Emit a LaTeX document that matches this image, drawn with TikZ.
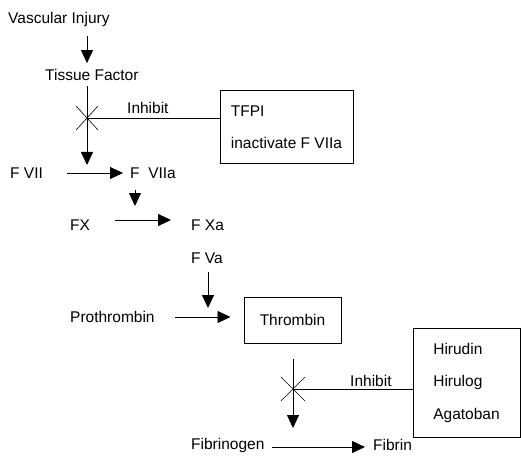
\documentclass[tikz,border=0pt]{standalone}
\usepackage{fontspec}
\setmainfont{Liberation Sans}
\usetikzlibrary{arrows.meta}

\begin{document}
\begin{tikzpicture}[x=1pt, y=-1pt,
    lbl/.style={inner sep=0pt, anchor=west, font=\fontsize{15.5}{18}\selectfont},
    box/.style={draw, line width=1pt, font=\fontsize{15.5}{32.5}\selectfont},
    arr/.style={-{Triangle[length=13pt,width=12pt]}, line width=0.8pt},
    cross/.style={line width=0.6pt}]
                    \useasboundingbox (0,0) rectangle (521,457);
                    % Nodes
                    \node[lbl] (vi) at (8,19) {Vascular Injury};
                    \node[lbl] (tf) at (45,75) {Tissue Factor};
                    \node[lbl] (inh1) at (127,108) {Inhibit};
                    \node[box, align=left, minimum width=133pt, minimum height=72pt] (tfpi) at (286.5,127) {TFPI\\inactivate F VIIa};
                    \node[lbl] (fvii) at (10,173) {F VII};
                    \node[lbl] (fviia) at (130,173) {F\ \ VIIa};
                    \node[lbl] (fx) at (70,225) {FX};
                    \node[lbl] (fxa) at (191,225) {F Xa};
                    \node[lbl] (fva) at (191,258) {F Va};
                    \node[lbl] (pro) at (70,317) {Prothrombin};
                    \node[box, minimum width=97pt, minimum height=46pt] (thr) at (292.5,320) {Thrombin};
                    \node[lbl] (inh2) at (350,381) {Inhibit};
                    \node[box, align=left, minimum width=107pt, minimum height=109pt] (hir) at (466.5,382.5) {Hirudin\\Hirulog\\Agatoban};
                    \node[lbl] (fbg) at (191,445) {Fibrinogen};
                    \node[lbl] (fib) at (373,445) {Fibrin};
                    % Points
                    \coordinate (x1) at (87,118);
                    \coordinate (e1) at (87,165);
                    \coordinate (e3) at (135,206);
                    \coordinate (e4) at (208,308);
                    \coordinate (x2) at (293,389);
                    \coordinate (e2) at (293,428);
                    % Edges
                    \draw[arr, shorten <=10pt, shorten >=6pt] (vi.south -| x1) -- (tf.north -| x1);
                    \draw[arr, shorten <=5pt] (tf.south -| x1) -- (e1);
                    \draw[cross] ([shift={(-11,-12)}]x1) -- ([shift={(11,12)}]x1);
                    \draw[cross] ([shift={(-11,12)}]x1) -- ([shift={(11,-12)}]x1);
                    \draw[line width=0.8pt] (x1) -- (tfpi.west |- x1);
                    \draw[arr, shorten <=24pt, shorten >=7pt] (fvii.east) -- (fviia.west);
                    \draw[arr, shorten <=11pt] ([xshift=5pt]fviia.south west) -- (e3);
                    \draw[arr, shorten <=25pt, shorten >=20pt] ([yshift=5pt]fx.east) -- ([yshift=5pt]fxa.west);
                    \draw[arr, shorten <=8pt] (fva.south -| e4) -- (e4);
                    \draw[arr, shorten <=20pt, shorten >=13pt] (pro.east) -- (thr.west |- pro.east);
                    \draw[arr, shorten <=15pt] (thr.south -| x2) -- (e2);
                    \draw[cross] ([shift={(-12,-12)}]x2) -- ([shift={(12,12)}]x2);
                    \draw[cross] ([shift={(-12,12)}]x2) -- ([shift={(12,-12)}]x2);
                    \draw[line width=0.8pt] (x2) -- (hir.west |- x2);
                    \draw[arr, shorten <=7pt, shorten >=8pt] ([yshift=-2pt]fbg.east) -- ([yshift=-2pt]fib.west);
                \end{tikzpicture}
\end{document}
